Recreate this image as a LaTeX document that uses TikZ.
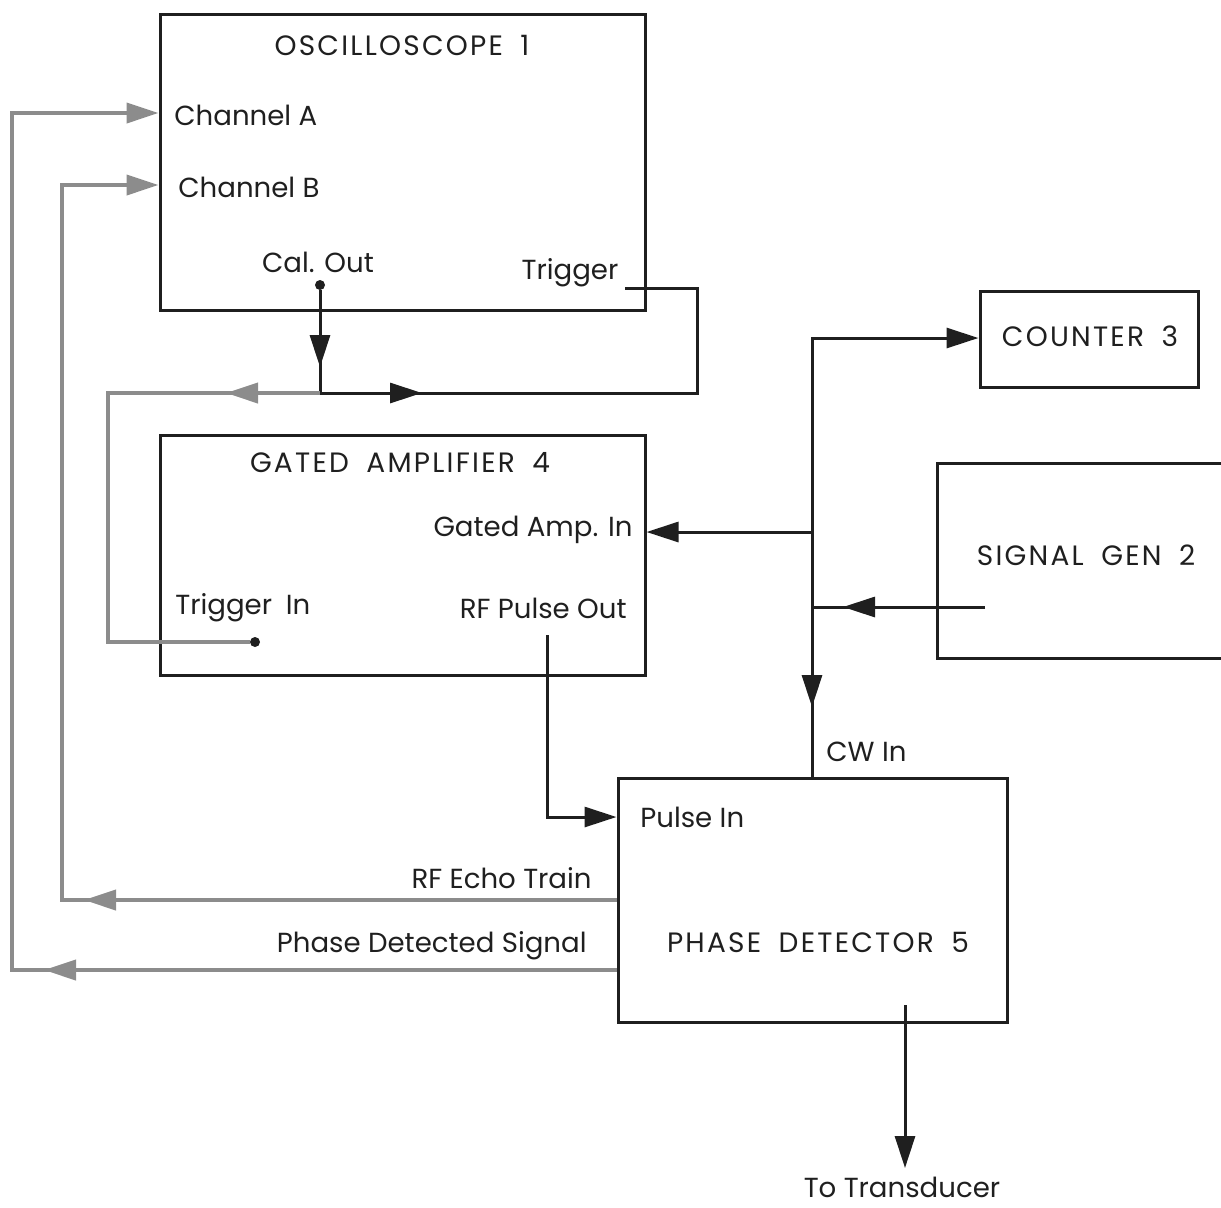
\documentclass[tikz,border=0pt]{standalone}
\usepackage{fontspec}
\setmainfont{Poppins}
\newfontfamily\capsfont[LetterSpace=8,WordSpace=1.8]{Poppins}
\usetikzlibrary{arrows.meta,fit}
\definecolor{wiregray}{gray}{0.55}
\definecolor{inkc}{gray}{0.12}
\begin{document}
\begin{tikzpicture}[x=0.5pt,y=-0.5pt,
  box/.style={draw=inkc, line width=1.5pt, inner sep=0pt},
  wire/.style={line width=1.5pt, draw=inkc},
  gwire/.style={line width=2pt, draw=wiregray},
  tip/.style={-{Triangle[length=16pt,width=10pt]}},
  lab/.style={font=\fontsize{13.8}{16}\selectfont, inner sep=0pt, text=inkc},
  captitle/.style={lab, font=\capsfont\fontsize{14}{16}\selectfont},
  dotc/.style={circle, fill=inkc, inner sep=0pt, minimum size=5pt}]
\useasboundingbox (0,0) rectangle (1221,1207);
% boxes
\node[box, fit={(160,14) (645,310)}] (osc) {};
\node[box, fit={(160,435) (645,675)}] (gamp) {};
\node[box, fit={(980,291) (1198,387)}] (cnt) {};
\node[box, fit={(937,463) (1260,658)}] (sg) {};
\node[box, fit={(618,778) (1007,1022)}] (pd) {};
% labels
\node[captitle] (osct) at (402,45) {OSCILLOSCOPE 1};
\node[lab, anchor=west] (cha) at (174,115) {Channel A};
\node[lab, anchor=west] (chb) at (178,187) {Channel B};
\node[lab] (calt) at (318,262) {Cal. Out};
\node[lab] (trigt) at (570,273) {Trigger};
\node[captitle] (gat) at (400,463) {GATED AMPLIFIER 4};
\node[lab, anchor=east] (gait) at (633,530) {Gated Amp. In};
\node[lab, anchor=west] (trint) at (175,608) {Trigger\enspace In};
\node[lab, anchor=east] (rfpo) at (627,608) {RF Pulse Out};
\node[captitle] (cntt) at (1090,336) {COUNTER 3};
\node[captitle] (sgt) at (1086,555) {SIGNAL GEN 2};
\node[lab, anchor=west] (cwt) at (826,752) {CW In};
\node[lab, anchor=west] (pit) at (640,817) {Pulse In};
\node[captitle] (pdt) at (818,942) {PHASE DETECTOR 5};
\node[lab, anchor=east] (rfet) at (592,878) {RF Echo Train};
\node[lab, anchor=east] (pdst) at (587,946) {Phase Detected Signal};
\node[lab] (tt) at (902,1187) {To Transducer};
% terminals
\node[dotc] (calo) at (320,285) {};
\node[dotc] (trin) at (255,642) {};
\coordinate (j1) at (320,393);
\coordinate (trigo) at (625,288);
\coordinate (rfo) at (547,635);
\coordinate (sgo) at (985,607);
\coordinate (pdo) at (905,1005);
\coordinate (tx) at (905,1168);
% phase detected signal -> channel A
\draw[gwire,tip] (pd.west |- 0,970) -- (12,970) |- (osc.west |- 0,113);
\draw[gwire,tip] (90,970) -- (44,970);
% rf echo train -> channel B
\draw[gwire,tip] (pd.west |- 0,900) -- (62,900) |- (osc.west |- 0,185);
\draw[gwire,tip] (130,900) -- (84,900);
% cal out
\draw[wire] (calo) -- (j1);
\draw[wire,tip] (320,330) -- (320,367);
\draw[gwire] (j1) -- (108,393) |- (trin);
\draw[gwire,tip] (262,393) -- (226,393);
\draw[wire] (j1) -- (697,393) |- (trigo);
\draw[wire,tip] (385,393) -- (422,393);
% signal distribution
\draw[wire,tip] (812,532) -- (gamp.east |- 0,532);
\draw[wire] (sgo) -- (812,607);
\draw[wire,tip] (880,607) -- (843,607);
\draw[wire,tip] (pd.north -| 812,0) |- (cnt.west |- 0,338);
\draw[wire,tip] (812,670) -- (812,707);
% rf pulse out -> pulse in
\draw[wire,tip] (rfo) |- (pd.west |- 0,817);
% output
\draw[wire,tip] (pdo) -- (tx);
\end{tikzpicture}
\end{document}
